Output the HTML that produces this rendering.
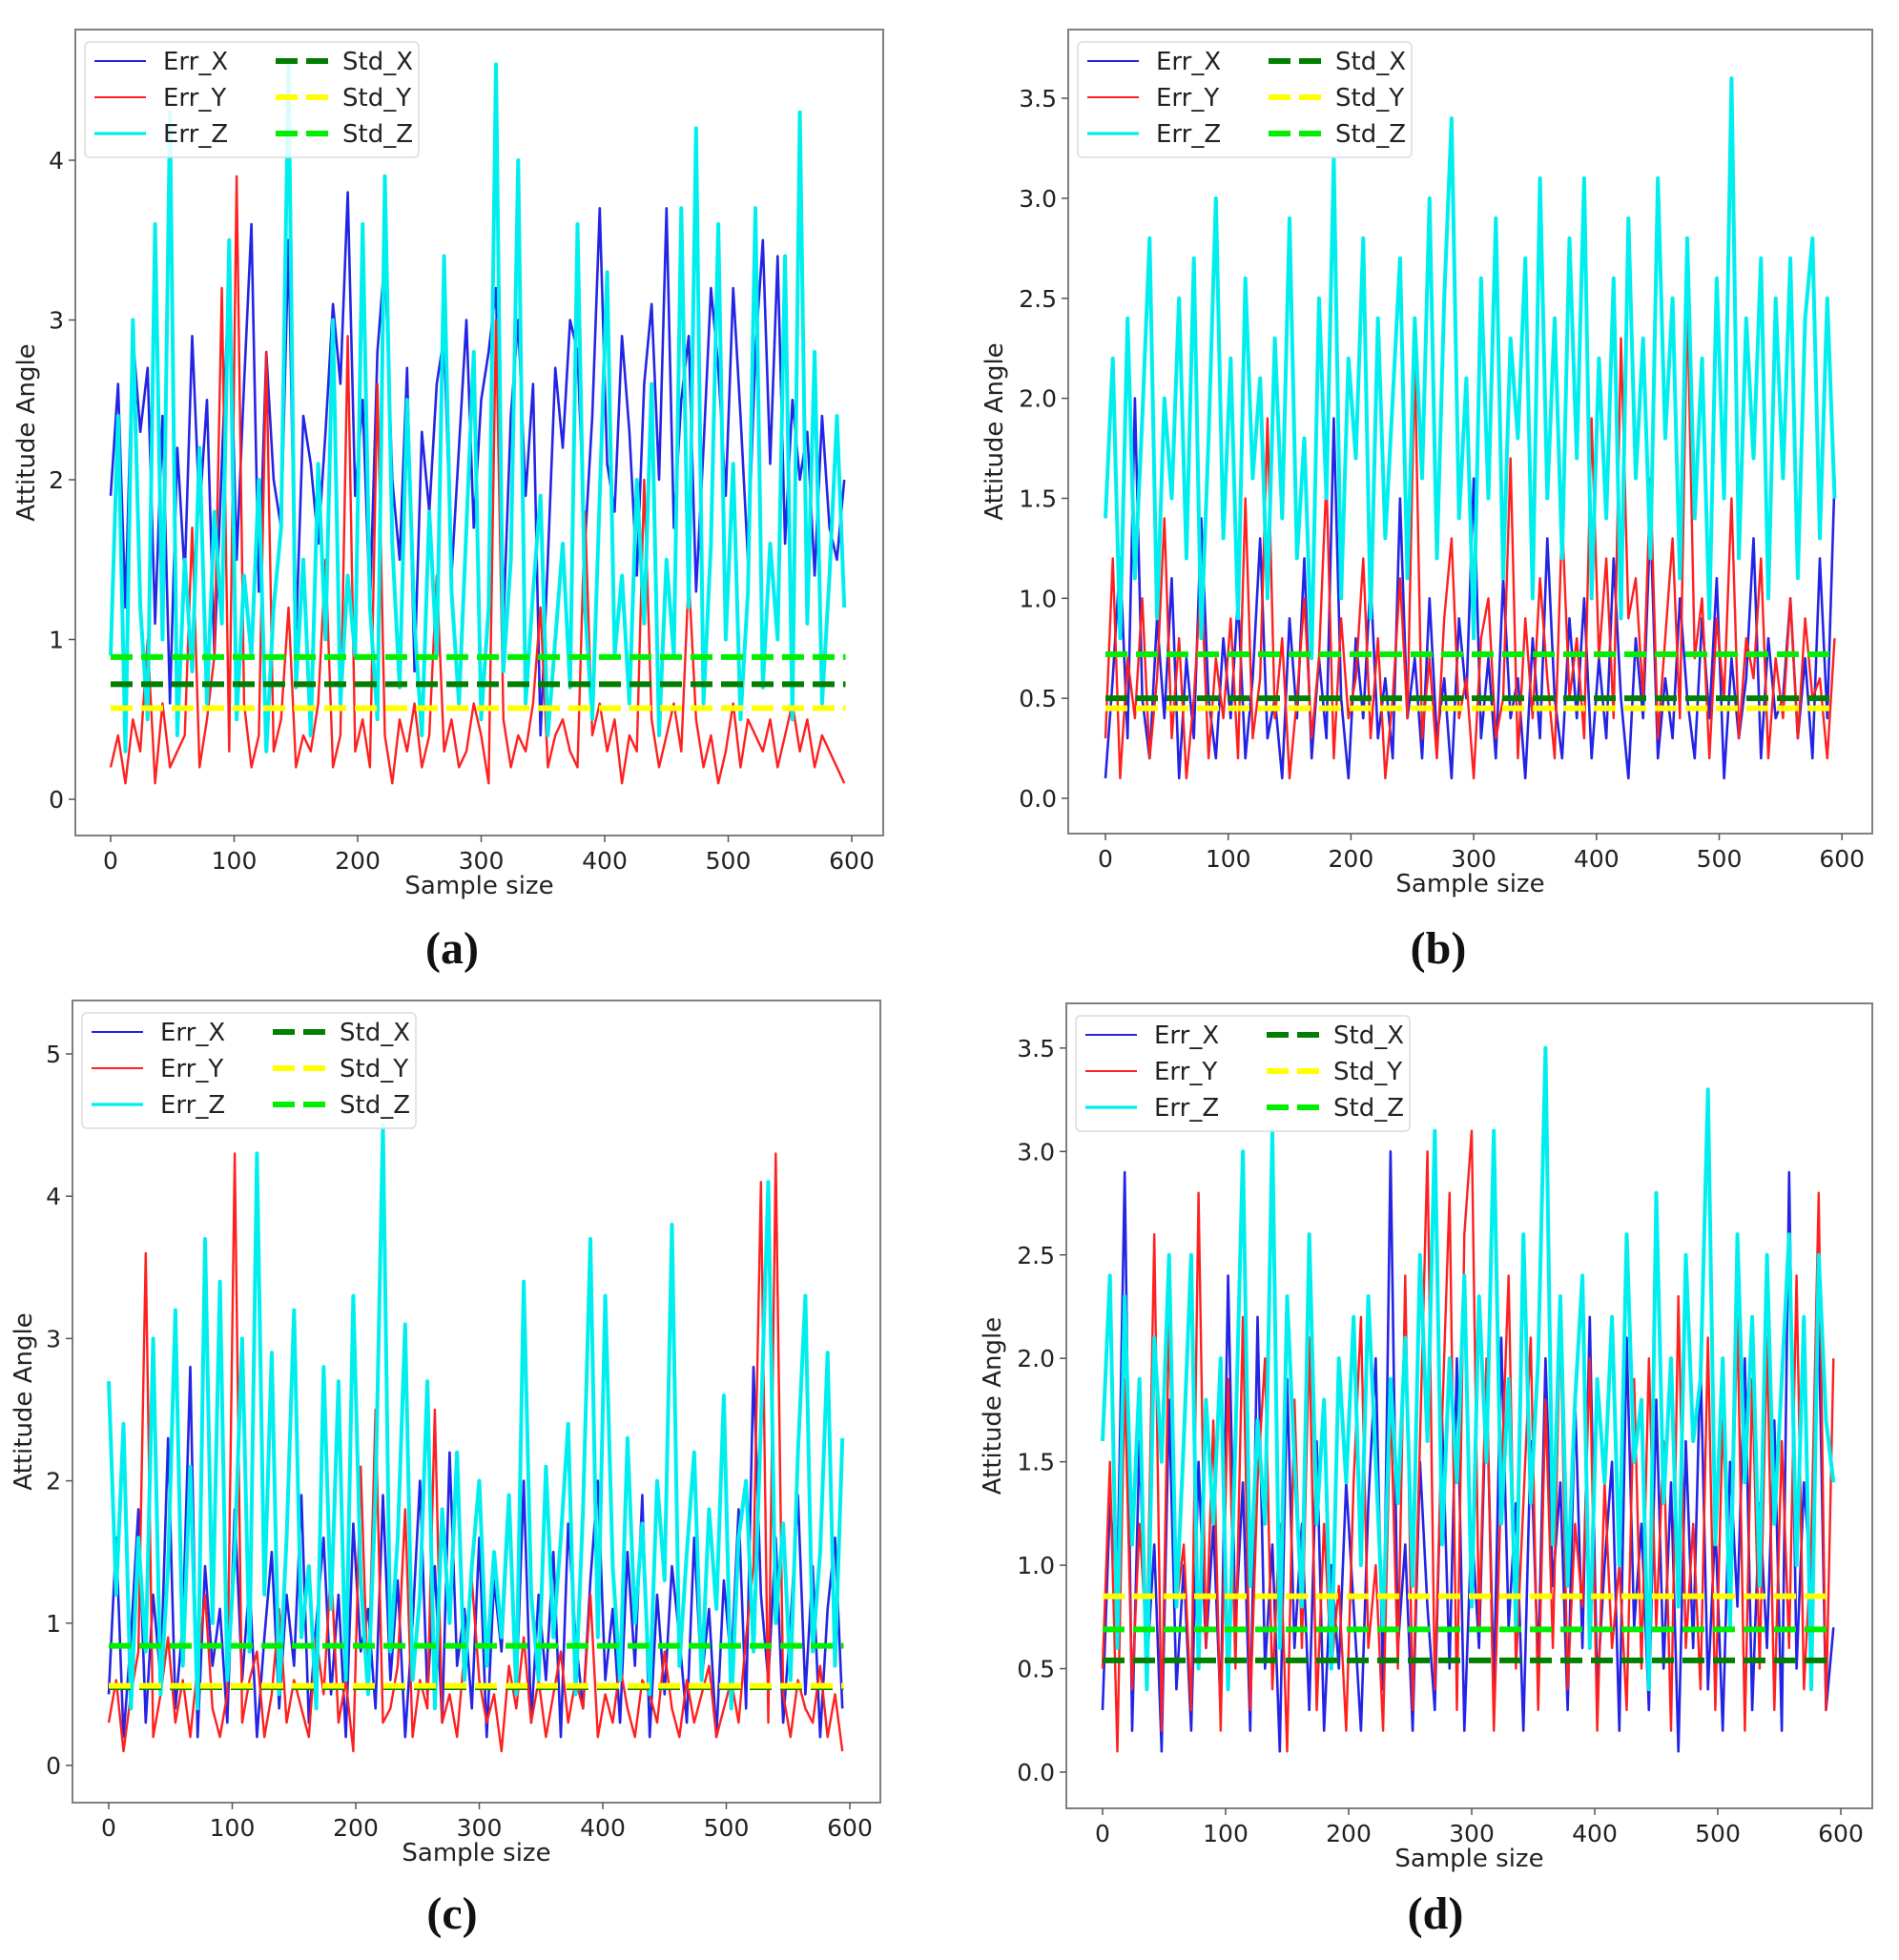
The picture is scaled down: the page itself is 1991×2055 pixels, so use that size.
<!DOCTYPE html>
<html><head><meta charset="utf-8"><style>
html,body{margin:0;padding:0;background:#fff;}
svg{display:block;}
text{font-family:"DejaVu Sans","Liberation Sans",sans-serif;fill:#222;}
.cap{font-family:"Liberation Serif",serif;font-weight:bold;font-size:48px;fill:#111;}
</style></head><body>
<svg id="chart" width="1991" height="2055" viewBox="0 0 1991 2055" xmlns="http://www.w3.org/2000/svg"></svg>
<script>
const sampleStep = 6;
const aErrX=[1.9,2.6,1.2,2.9,2.3,2.7,1.1,2.4,0.6,2.2,1.4,2.9,1.8,2.5,0.9,2.1,3.3,1.5,2.6,3.6,1.3,2.8,2.0,1.7,3.5,1.0,2.4,2.1,1.6,2.3,3.1,2.6,3.8,1.9,2.5,1.2,2.8,3.4,2.0,1.5,2.7,0.8,2.3,1.8,2.6,2.9,1.4,2.2,3.0,1.7,2.5,2.8,3.2,1.1,2.4,3.0,1.9,2.6,0.4,1.5,2.7,2.2,3.0,2.8,1.6,2.4,3.7,2.1,1.8,2.9,2.3,1.4,2.6,3.1,2.0,3.7,1.7,2.5,2.9,1.3,2.2,3.2,2.7,1.9,3.2,2.4,1.5,2.8,3.5,2.1,3.4,1.6,2.5,2.0,2.3,1.4,2.4,1.7,1.5,2.0];
const aErrY=[0.2,0.4,0.1,0.5,0.3,1.0,0.1,0.6,0.2,0.3,0.4,1.7,0.2,0.5,0.9,3.2,0.3,3.9,0.6,0.2,0.4,2.8,0.3,0.5,1.2,0.2,0.4,0.3,0.6,1.5,0.2,0.4,2.9,0.3,0.5,0.2,2.6,0.4,0.1,0.5,0.3,0.6,0.2,0.4,1.4,0.3,0.5,0.2,0.3,0.6,0.4,0.1,3.0,0.5,0.2,0.4,0.3,0.6,1.2,0.2,0.4,0.5,0.3,0.2,1.8,0.4,0.6,0.3,0.5,0.1,0.4,0.3,2.0,0.5,0.2,0.4,0.6,0.3,1.4,0.5,0.2,0.4,0.1,0.3,0.6,0.2,0.5,0.4,0.3,0.5,0.2,0.4,0.6,0.3,0.5,0.2,0.4,0.3,0.2,0.1];
const aErrZ=[0.9,2.4,0.3,3.0,1.2,0.5,3.6,1.0,4.3,0.4,1.5,0.8,2.2,0.6,1.8,1.1,3.5,0.5,1.4,0.9,2.0,0.3,1.2,1.7,4.6,0.7,1.5,0.4,2.1,1.0,3.0,0.6,1.4,0.9,3.6,1.2,0.5,3.9,1.6,0.7,2.5,1.1,0.4,1.8,0.9,3.4,1.3,0.6,1.7,2.8,0.5,1.2,4.6,0.8,1.5,4.0,0.6,1.3,1.9,0.4,1.0,1.6,0.7,3.6,1.2,0.5,1.9,3.3,0.9,1.4,0.6,2.0,1.1,2.6,0.4,1.5,0.9,3.7,1.2,4.2,0.6,1.6,3.6,1.0,2.1,0.5,1.3,3.7,0.7,1.6,1.0,3.4,0.5,4.3,1.1,2.8,0.6,1.4,2.4,1.2];
const bErrX=[0.1,0.6,1.2,0.3,2.0,0.5,0.2,0.9,0.4,1.1,0.1,0.7,0.3,1.4,0.5,0.2,0.8,0.4,1.0,0.2,0.6,1.3,0.3,0.5,0.1,0.9,0.4,1.2,0.2,0.7,0.3,1.9,0.5,0.1,0.8,0.4,1.1,0.3,0.6,0.2,1.5,0.4,0.7,0.2,1.0,0.3,0.6,0.1,0.9,0.5,1.6,0.3,0.7,0.2,1.1,0.4,0.6,0.1,0.8,0.3,1.3,0.5,0.2,0.9,0.4,1.0,0.2,0.7,0.3,1.2,0.5,0.1,0.8,0.4,1.4,0.2,0.6,0.3,1.0,0.5,0.2,0.9,0.4,1.1,0.1,0.7,0.3,0.6,1.3,0.2,0.8,0.4,0.5,1.0,0.3,0.7,0.2,1.2,0.4,1.6];
const bErrY=[0.3,1.2,0.1,0.7,0.4,1.0,0.2,0.6,1.4,0.3,0.8,0.1,0.5,1.1,0.2,0.7,0.4,0.9,0.2,1.5,0.3,0.6,1.9,0.4,0.8,0.1,0.5,1.0,0.3,0.7,1.6,0.2,0.9,0.4,0.6,1.2,0.3,0.8,0.1,0.5,1.1,0.4,2.2,0.3,0.7,0.2,0.9,1.3,0.4,0.6,0.1,0.8,1.0,0.3,0.5,1.7,0.2,0.9,0.4,1.1,0.6,0.2,1.4,0.5,0.8,0.3,1.9,0.7,1.2,0.4,2.3,0.9,1.1,0.5,1.6,0.3,0.8,1.3,0.4,2.5,0.7,1.0,0.2,0.9,0.5,1.5,0.3,0.8,0.6,1.2,0.2,0.7,0.4,1.0,0.3,0.9,0.5,0.6,0.2,0.8];
const bErrZ=[1.4,2.2,0.8,2.4,1.1,1.9,2.8,0.9,2.0,1.5,2.5,1.2,2.7,0.8,1.8,3.0,1.3,2.2,0.9,2.6,1.6,2.1,1.0,2.3,1.4,2.9,1.2,1.8,0.7,2.5,1.5,3.2,1.0,2.2,1.7,2.8,0.9,2.4,1.3,2.0,2.7,1.1,2.4,1.6,3.0,1.2,2.5,3.4,1.4,2.1,0.8,2.6,1.5,2.9,1.1,2.3,1.8,2.7,1.0,3.1,1.5,2.4,1.2,2.8,1.7,3.1,1.0,2.2,1.4,2.6,0.9,2.9,1.6,2.3,1.2,3.1,1.8,2.5,1.1,2.8,1.4,2.2,0.9,2.6,1.5,3.6,1.2,2.4,1.7,2.7,1.0,2.5,1.6,2.7,1.1,2.4,2.8,1.3,2.5,1.5];
const cErrX=[0.5,1.6,0.2,0.9,1.8,0.3,1.2,0.6,2.3,0.4,1.0,2.8,0.2,1.4,0.7,1.1,0.3,1.8,0.6,1.3,0.2,0.9,1.5,0.4,1.2,0.7,1.9,0.3,1.0,1.6,0.5,1.2,0.2,1.7,0.8,1.1,0.4,1.9,0.6,1.3,0.2,1.0,2.0,0.5,1.4,0.3,2.2,0.7,1.1,0.4,1.6,0.2,1.3,0.8,1.8,0.5,2.0,0.3,1.2,0.6,1.5,0.2,1.7,0.9,0.4,1.3,2.0,0.6,1.1,0.3,1.5,0.7,1.9,0.2,1.2,0.5,1.4,0.9,0.3,1.6,0.6,1.1,0.2,1.3,0.7,1.8,0.4,2.8,1.2,0.6,1.6,0.3,1.0,1.9,0.5,1.4,0.2,1.1,1.6,0.4];
const cErrY=[0.3,0.6,0.1,0.5,0.8,3.6,0.2,0.5,0.9,0.3,0.6,0.2,0.7,1.2,0.4,0.2,0.5,4.3,0.3,0.6,0.8,0.2,0.5,1.1,0.3,0.6,0.4,0.2,0.9,0.5,1.4,0.3,0.6,0.1,2.1,0.5,2.5,0.3,0.4,0.7,1.8,0.2,0.6,0.4,2.5,0.3,0.5,0.2,0.8,1.3,0.6,0.3,0.5,0.1,0.7,0.4,0.9,0.3,0.6,0.2,0.5,0.8,0.3,0.6,0.4,1.2,0.2,0.5,0.3,0.7,0.4,0.2,0.6,0.5,0.3,0.8,0.4,0.2,0.6,0.3,0.5,0.7,0.2,0.4,0.6,0.3,0.9,1.4,4.1,0.3,4.3,0.5,0.2,0.6,0.4,0.3,0.7,0.2,0.5,0.1];
const cErrZ=[2.7,1.2,2.4,0.4,1.6,0.8,3.0,0.5,1.4,3.2,0.7,2.1,0.4,3.7,1.0,3.4,0.6,1.5,3.0,0.8,4.3,1.2,2.9,0.5,1.6,3.2,0.9,1.4,0.4,2.8,1.1,2.7,0.6,3.3,1.3,0.5,1.9,4.5,0.8,1.6,3.1,0.6,1.2,2.7,0.4,1.8,1.0,2.2,0.6,1.4,2.0,0.7,1.5,0.9,1.9,0.5,3.4,1.2,0.6,2.1,0.9,1.6,2.4,0.5,1.8,3.7,0.9,3.3,1.4,0.6,2.3,1.0,1.7,0.5,2.0,1.3,3.8,0.7,1.5,2.2,0.6,1.8,1.1,2.6,0.4,1.6,2.0,0.8,2.4,4.1,1.0,1.7,0.6,2.2,3.3,0.8,1.5,2.9,0.7,2.3];
const dErrX=[0.3,1.3,0.9,2.9,0.2,1.6,0.5,1.1,0.1,1.8,0.4,1.0,0.2,1.5,0.6,1.2,0.3,2.4,0.7,1.4,0.2,2.2,0.5,1.1,0.1,1.9,0.6,1.2,0.3,1.6,0.2,1.0,0.5,1.4,0.8,0.2,1.3,2.0,0.4,3.0,0.6,1.1,0.2,1.5,0.8,0.3,1.7,0.5,2.0,0.2,1.2,0.6,1.9,0.4,2.1,0.7,1.3,0.2,1.6,0.5,2.0,0.9,1.4,0.3,1.8,0.6,2.2,0.4,1.0,1.5,0.2,2.1,0.7,1.2,0.3,1.8,0.5,1.4,0.1,1.6,0.6,2.0,0.4,1.2,0.2,1.5,0.8,2.0,0.3,1.3,0.6,1.7,0.2,2.9,0.5,1.4,0.9,2.2,0.3,0.7];
const dErrY=[0.5,1.5,0.1,1.9,0.4,1.2,0.6,2.6,0.2,2.2,0.8,1.1,0.3,2.8,0.6,1.7,0.2,1.9,0.5,2.2,0.3,1.4,2.0,0.4,1.2,0.1,1.8,0.6,2.1,0.3,1.2,0.5,0.9,0.2,1.4,2.2,0.6,1.0,0.2,1.8,0.5,2.4,0.3,1.6,3.0,0.4,1.7,2.8,0.3,2.6,3.1,0.7,2.0,0.2,1.4,2.4,0.5,1.3,2.1,0.3,1.8,0.6,2.2,0.4,1.2,0.8,2.0,0.2,1.4,0.6,1.0,0.3,1.9,0.5,2.0,0.7,1.6,0.2,2.3,0.6,1.2,0.4,2.1,0.3,1.7,0.8,2.2,0.2,1.9,0.5,2.1,0.3,1.6,0.6,2.4,0.4,1.1,2.8,0.3,2.0];
const dErrZ=[1.6,2.4,0.6,2.3,1.1,1.9,0.4,2.1,1.5,2.5,0.8,1.6,2.5,0.5,1.8,1.2,2.0,0.4,1.6,3.0,0.9,1.7,1.2,3.1,0.6,2.3,1.5,0.8,2.6,1.2,1.8,0.5,2.0,1.4,2.2,1.0,2.3,1.5,0.7,1.9,1.3,2.1,0.9,2.5,1.6,3.1,1.1,2.0,1.4,2.4,0.8,2.3,1.5,3.1,1.2,1.9,0.7,2.6,1.3,2.0,3.5,1.1,2.3,0.9,1.8,2.4,0.6,1.9,1.4,2.2,1.0,2.6,1.5,1.8,0.4,2.8,1.3,2.0,0.8,2.5,1.6,1.9,3.3,1.1,2.0,0.7,2.6,1.4,2.2,0.9,2.5,1.2,1.9,2.6,1.0,2.2,0.4,2.5,1.7,1.4];
const aStd=[0.72,0.57,0.89];
const bStd=[0.50,0.45,0.72];
const cStd=[0.55,0.56,0.84];
const dStd=[0.54,0.85,0.69];
const xTicks=[0,100,200,300,400,500,600];
const aYTicks=[0,1,2,3,4];
const bYTicks=[0,0.5,1,1.5,2,2.5,3,3.5];
const cYTicks=[0,1,2,3,4,5];
const dYTicks=[0,0.5,1,1.5,2,2.5,3,3.5];
const captions=["(a)","(b)","(c)","(d)"];

const NS="http://www.w3.org/2000/svg";
const svg=document.getElementById('chart');
function mk(tag,attrs,parent){const e=document.createElementNS(NS,tag);for(const k in attrs)e.setAttribute(k,attrs[k]);(parent||svg).appendChild(e);return e;}

const panels=[
 {id:'a',L:79,T:31,R:926,B:876,x0:116,xs:1.295,y0:838,ys:167.5,ticks:aYTicks,dec:0,X:aErrX,Y:aErrY,Z:aErrZ,S:aStd,cx:474,cy:1010},
 {id:'b',L:1120,T:31,R:1963,B:874,x0:1159,xs:1.287,y0:837,ys:209.7,ticks:bYTicks,dec:1,X:bErrX,Y:bErrY,Z:bErrZ,S:bStd,cx:1508,cy:1010},
 {id:'c',L:76,T:1049,R:923,B:1890,x0:114,xs:1.295,y0:1851,ys:149.2,ticks:cYTicks,dec:0,X:cErrX,Y:cErrY,Z:cErrZ,S:cStd,cx:474,cy:2022},
 {id:'d',L:1118,T:1052,R:1963,B:1896,x0:1156,xs:1.29,y0:1858,ys:216.9,ticks:dYTicks,dec:1,X:dErrX,Y:dErrY,Z:dErrZ,S:dStd,cx:1505,cy:2022}
];
const errColors=['#2424e6','#ff2020','#00eeee'];
const errW=[2.6,2.4,4];
const legW=[2,2,3.2];
const stdColors=['#007f00','#ffff00','#00ee00'];
const names=['X','Y','Z'];

panels.forEach((p,pi)=>{
  const g=mk('g',{});
  
  
  const xS=v=>p.x0+v*p.xs;
  const yS=v=>p.y0-v*p.ys;
  const clipId='clip'+p.id;
  const cp=mk('clipPath',{id:clipId},g);
  mk('rect',{x:p.L,y:p.T,width:p.R-p.L,height:p.B-p.T},cp);
  const plot=mk('g',{'clip-path':'url(#'+clipId+')'},g);
  [p.X,p.Y,p.Z].forEach((arr,si)=>{
    const d=arr.map((v,i)=>(i?'L':'M')+xS(i*sampleStep).toFixed(1)+' '+yS(v).toFixed(1)).join(' ');
    const path=mk('path',{d:d,fill:'none',stroke:errColors[si],'stroke-width':errW[si],'stroke-linejoin':'round'},plot);
    
    
  });
  p.S.forEach((v,si)=>{
    const ln=mk('line',{x1:xS(0),x2:xS(595),y1:yS(v),y2:yS(v),stroke:stdColors[si],'stroke-width':6,'stroke-dasharray':'23 9'},plot);
    
    
  });
  const fr=mk('rect',{x:p.L,y:p.T,width:p.R-p.L,height:p.B-p.T,fill:'none',stroke:'#808080','stroke-width':2},g);
  
  
  xTicks.forEach(t=>{
    mk('line',{x1:xS(t),x2:xS(t),y1:p.B,y2:p.B+7,stroke:'#555','stroke-width':1.5},g);
    const tx=mk('text',{x:xS(t),y:p.B+35,'font-size':25,'text-anchor':'middle'},g);
    tx.textContent=String(t);
    
    
  });
  p.ticks.forEach(t=>{
    mk('line',{x1:p.L-7,x2:p.L,y1:yS(t),y2:yS(t),stroke:'#555','stroke-width':1.5},g);
    const tx=mk('text',{x:p.L-12,y:yS(t)+9,'font-size':25,'text-anchor':'end'},g);
    tx.textContent=t.toFixed(p.dec);
    
    
  });
  const xl=mk('text',{x:(p.L+p.R)/2,y:p.B+61,'font-size':26,'text-anchor':'middle'},g);
  xl.textContent='Sample size';
  
  
  const yc=(p.T+p.B)/2, yx=p.L-(p.dec?69:43);
  const yl=mk('text',{x:yx,y:yc,'font-size':26,'text-anchor':'middle',transform:'rotate(-90 '+yx+' '+yc+')'},g);
  yl.textContent='Attitude Angle';
  
  
  const lg=mk('g',{},g);
  
  
  mk('rect',{x:p.L+10,y:p.T+13,width:350,height:121,rx:5,fill:'#fff','fill-opacity':0.85,stroke:'#dcdcdc','stroke-width':1.5},lg);
  for(let i=0;i<3;i++){
    const ry=p.T+33+38*i;
    mk('line',{x1:p.L+20,x2:p.L+74,y1:ry,y2:ry,stroke:errColors[i],'stroke-width':legW[i]},lg);
    const t1=mk('text',{x:p.L+92,y:ry+9,'font-size':26},lg);
    t1.textContent='Err_'+names[i];
    
    
    mk('line',{x1:p.L+210,x2:p.L+265,y1:ry,y2:ry,stroke:stdColors[i],'stroke-width':6,'stroke-dasharray':'23 9'},lg);
    const t2=mk('text',{x:p.L+280,y:ry+9,'font-size':26},lg);
    t2.textContent='Std_'+names[i];
    
    
  }
  const cap=mk('text',{x:p.cx,y:p.cy,'text-anchor':'middle',class:'cap'},g);
  cap.textContent=captions[pi];
  
  
});
</script>
</body></html>
